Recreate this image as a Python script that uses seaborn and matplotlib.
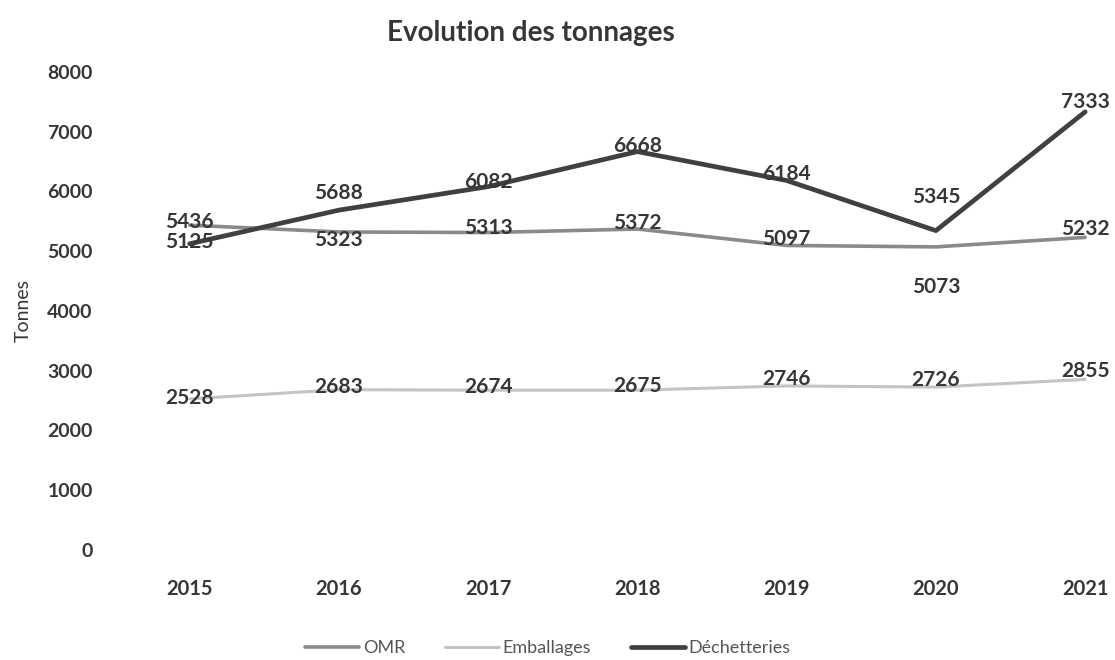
import pandas as pd
import matplotlib
matplotlib.use("Agg")
import matplotlib.pyplot as plt
import seaborn as sns

# Data
years = [2015, 2016, 2017, 2018, 2019, 2020, 2021]
omr = [5436, 5323, 5313, 5372, 5097, 5073, 5232]
emballages = [2528, 2683, 2674, 2675, 2746, 2726, 2855]
dechetteries = [5125, 5688, 6082, 6668, 6184, 5345, 7333]
series_names = ["OMR", "Emballages", "Déchetteries"]

df = pd.DataFrame({
    "Année": years * 3,
    "Tonnes": omr + emballages + dechetteries,
    "Série": [series_names[0]] * 7 + [series_names[1]] * 7 + [series_names[2]] * 7,
})

sns.set_theme(style="white")
plt.rcParams["font.family"] = ["Lato", "DejaVu Sans"]

palette = {"OMR": "#8a8a8a", "Emballages": "#c4c4c4", "Déchetteries": "#404040"}
widths = {"OMR": 2.6, "Emballages": 2.2, "Déchetteries": 3.4}
txt = "#363636"

fig = plt.figure(figsize=(11.15, 6.6), dpi=100)
ax = fig.add_axes([115 / 1115, 0.1667, 1 - 115 / 1115, 0.7242])

sns.lineplot(data=df, x="Année", y="Tonnes", hue="Série", palette=palette,
             hue_order=series_names, ax=ax, legend=False)
for line, name in zip(ax.get_lines(), series_names):
    line.set_linewidth(widths[name])

# vertical offsets (points) of the value labels
offsets = {
    "OMR": [2, -6, 3, 4, 5, -29, 6],
    "Emballages": [1, 2, 2, 3, 5, 5, 6],
    "Déchetteries": [1, 12, 3, 4, 5, 24, 7],
}
for name, vals in zip(series_names, [omr, emballages, dechetteries]):
    for i, (yr, v) in enumerate(zip(years, vals)):
        ax.annotate(str(v), (yr, v), xytext=(0, offsets[name][i]),
                    textcoords="offset points", ha="center", va="center",
                    fontsize=15, fontweight="bold", color=txt, zorder=5)

ax.set_xlim(2014.5, 2021.2)
ax.set_ylim(0, 8000)
ax.set_xticks(years)
ax.set_xticklabels([str(y) for y in years])
ax.set_yticks(range(0, 8001, 1000))
ax.tick_params(axis="x", length=0, pad=21, labelsize=14.5, labelcolor=txt)
ax.tick_params(axis="y", length=0, pad=16, labelsize=14, labelcolor=txt)
for lbl in ax.get_xticklabels() + ax.get_yticklabels():
    lbl.set_fontweight("bold")
sns.despine(ax=ax, left=True, bottom=True)
ax.grid(False)

ax.set_xlabel("")
ax.set_ylabel("")
fig.text(23 / 1115, 1 - 310 / 660, "Tonnes", rotation=90, ha="center",
         va="center", fontsize=14, color=txt)
fig.text(531 / 1115, 1 - 33 / 660, "Evolution des tonnages", ha="center",
         va="center", fontsize=20, fontweight="bold", color=txt)

handles = [plt.Line2D([], [], color=palette[n], lw=widths[n]) for n in series_names]
fig.legend(handles, series_names, loc="center", bbox_to_anchor=(548 / 1115, 1 - 648 / 660),
           ncol=3, frameon=False, fontsize=13, handlelength=3.0,
           handletextpad=0.2, columnspacing=2.2, labelcolor="#555555")

fig.savefig("out.png", dpi=100, facecolor="white")
